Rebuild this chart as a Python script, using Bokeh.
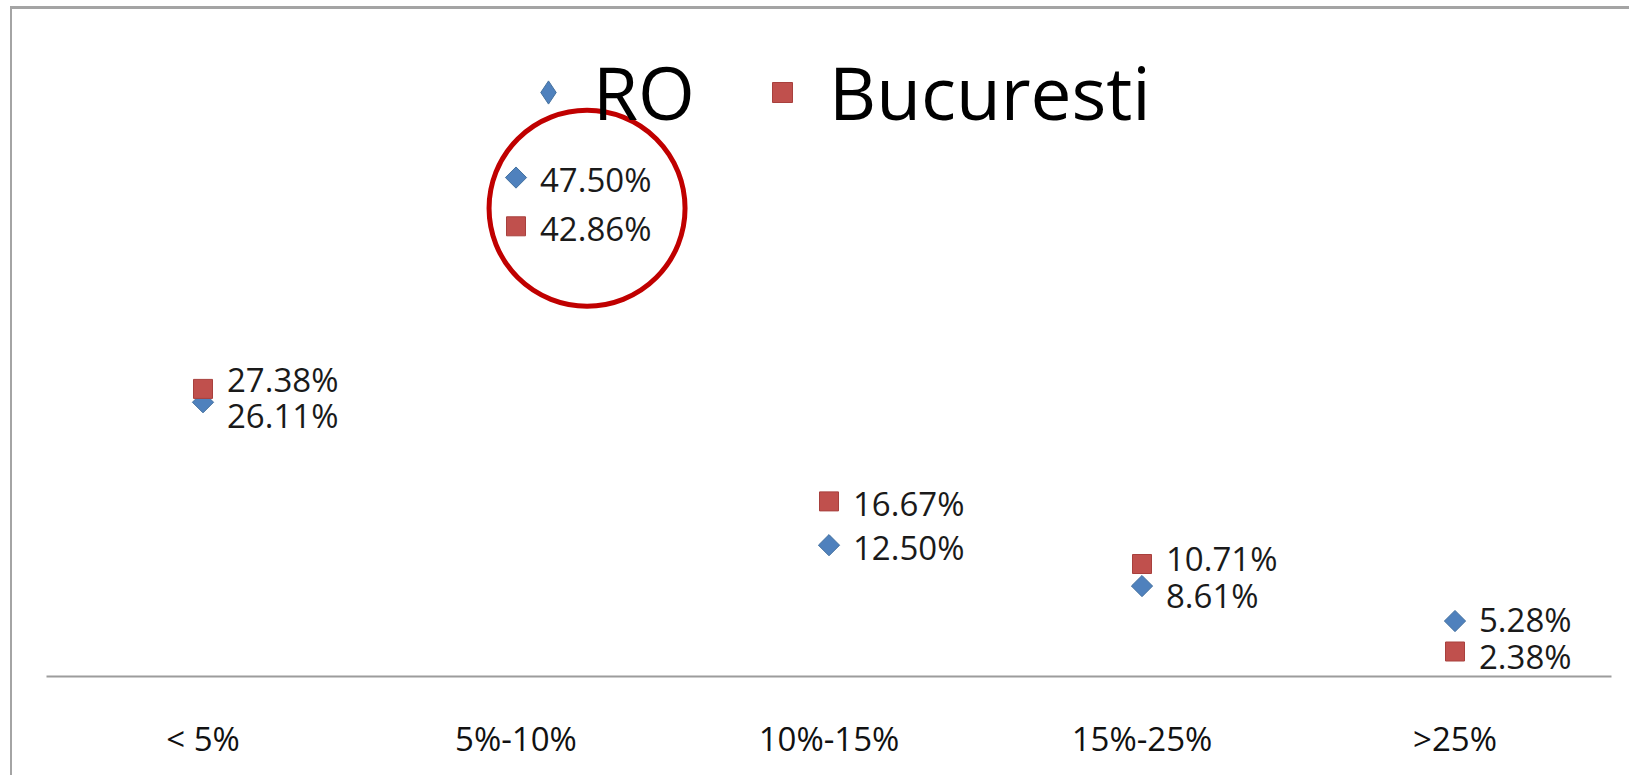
import numpy as np
from bokeh.plotting import figure
from bokeh.models import ColumnDataSource, Legend, LegendItem, FactorRange, Range1d
from bokeh.transform import dodge
from bokeh.embed import file_html
from bokeh.resources import INLINE
from bokeh.core.properties import value

# ---- data ----
categories = ["< 5%", "5%-10%", "10%-15%", "15%-25%", ">25%"]
ro_values = [26.11, 47.50, 12.50, 8.61, 5.28]
buc_values = [27.38, 42.86, 16.67, 10.71, 2.38]
series_names = ["RO", "Bucuresti"]
highlight_category = "5%-10%"

BLUE = "#4F81BD"
RED = "#C0504D"
FONT = "Open Sans"

# label placement: keep the two labels of one category apart
MIN_GAP = 3.5
ro_label_y, buc_label_y = [], []
for a, b in zip(ro_values, buc_values):
    if abs(a - b) < MIN_GAP:
        mid = (a + b) / 2.0
        hi, lo = mid + MIN_GAP / 2.0, mid - MIN_GAP / 2.0
        if a >= b:
            ro_label_y.append(hi); buc_label_y.append(lo)
        else:
            ro_label_y.append(lo); buc_label_y.append(hi)
    else:
        ro_label_y.append(a); buc_label_y.append(b)

ro_src = ColumnDataSource(dict(x=categories, y=ro_values, ly=ro_label_y,
                               t=[f"{v:.2f}%" for v in ro_values]))
buc_src = ColumnDataSource(dict(x=categories, y=buc_values, ly=buc_label_y,
                                t=[f"{v:.2f}%" for v in buc_values]))

p = figure(width=1619, height=769, x_range=FactorRange(*categories),
           y_range=Range1d(0, 63.5), output_backend="svg", toolbar_location=None,
           min_border_left=34, min_border_right=20, min_border_top=0,
           min_border_bottom=102)
p.styles = {"margin-left": "12px", "margin-top": "9px",
            "box-shadow": "-2px -3px 0 0 #a4a4a4"}
p.background_fill_color = "white"
p.border_fill_color = "white"
p.outline_line_color = None
p.grid.visible = False
p.yaxis.visible = False

xa = p.xaxis[0]
xa.axis_line_color = "#9c9c9c"
xa.axis_line_width = 2
xa.major_tick_line_color = None
xa.minor_tick_line_color = None
xa.major_label_standoff = 33
xa.major_label_text_font = FONT
xa.major_label_text_font_size = "33px"
xa.major_label_text_color = "#111111"

r_ro = p.scatter(x="x", y="y", source=ro_src, marker="square", angle=np.pi / 4,
                 size=15, fill_color=BLUE, line_color="#44719f", line_width=1)
r_buc = p.scatter(x="x", y="y", source=buc_src, marker="square", size=19,
                  fill_color=RED, line_color="#a8403d", line_width=1)

# legend-only diamond (the legend does not rotate markers); its point is not drawn
legend_ro = p.scatter(x=[categories[0]], y=[np.nan], marker="diamond",
                      fill_color=BLUE, line_color="#44719f", line_width=1)

for src in (ro_src, buc_src):
    p.text(x="x", y="ly", text="t", source=src, x_offset=24, y_offset=2,
           text_align="left", text_baseline="middle",
           text_font=value(FONT), text_font_size="33px", text_color="#1a1a1a")

# highlight circle around the 5%-10% pair
hi_idx = categories.index(highlight_category)
circ_src = ColumnDataSource(dict(x=[highlight_category],
                                 y=[(ro_values[hi_idx] + buc_values[hi_idx]) / 2.0 - 0.6]))
p.scatter(x=dodge("x", 0.227, range=p.x_range), y="y", source=circ_src,
          marker="circle", size=196, fill_alpha=0, line_color="#C00000", line_width=5)

legend_style = dict(orientation="horizontal", label_text_font=FONT,
                    label_text_font_size="73px", label_text_color="black",
                    border_line_color=None, background_fill_alpha=0,
                    margin=0, padding=0)
legend1 = Legend(items=[LegendItem(label=series_names[0], renderers=[legend_ro])],
                 location=(473, 535), glyph_width=58, glyph_height=58,
                 label_standoff=16, **legend_style)
legend2 = Legend(items=[LegendItem(label=series_names[1], renderers=[r_buc])],
                 location=(711, 535), glyph_width=50, glyph_height=50,
                 label_standoff=22, **legend_style)
p.add_layout(legend1)
p.add_layout(legend2)

open("out.html", "w").write(file_html(p, INLINE))
